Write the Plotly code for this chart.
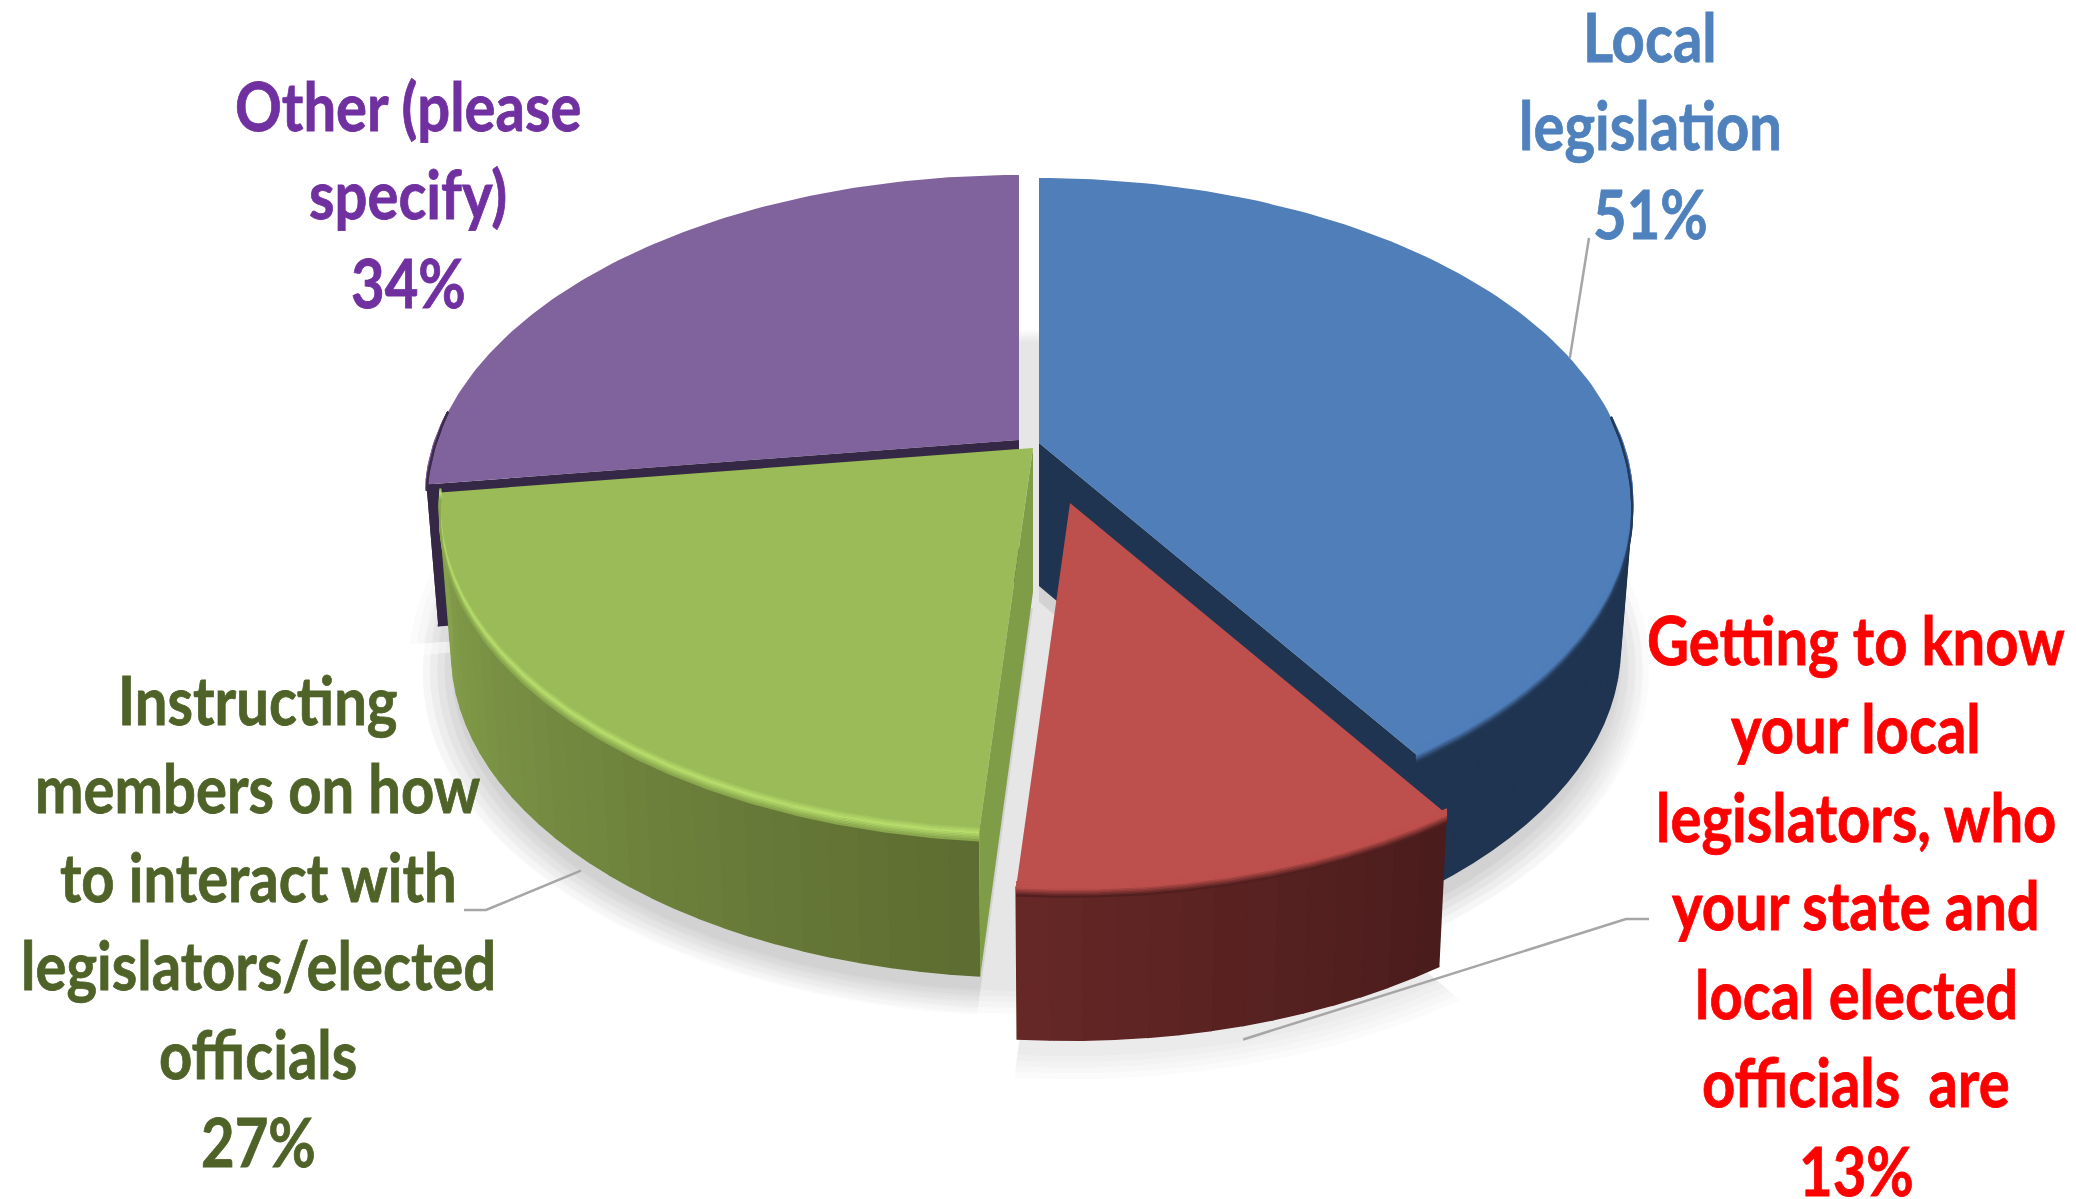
"""Exploded 3D-looking pie, drawn with filled scatter traces since go.Pie cannot tilt."""

import numpy as np
import plotly.graph_objects as go

# data
categories = ["Local legislation", "Getting to know your local legislators", "Instructing members", "Other"]
values = [51, 13, 27, 34]
label_lines = [
    ["Local", "legislation"],
    ["Getting to know", "your local", "legislators, who", "your state and", "local elected", "officials  are"],
    ["Instructing", "members on how", "to interact with", "legislators/elected", "officials"],
    ["Other (please", "specify)"],
]

# styles
top_colors = ["#4F7EB9", "#BD4F4C", "#9BBB59", "#80629C"]
face_colors = ["#1F3450", None, "#7F9C46", "#352846"]
side_back = ["#1F3450", "#4A1C1C", "#5D6C31", "#352846"]  # low theta end
side_front = ["#1F3450", "#662826", "#87A34D", "#352846"]  # high theta end
rim_colors = ["#4F7EB9", "#BD4F4C", "#B8DE6C", "#80629C"]
text_colors = ["#4F81BD", "#FF0000", "#4F6228", "#7030A0"]
FONT = "Lato, sans-serif"
FONT_SIZE = 58
LINE_GAP = 88.5
LEADER = "#A6A6A6"

# layout in page pixels
WIDTH, HEIGHT = 2076, 1199
apex_x = [1039, 1070, 1033, 1019]
apex_y = [443, 503, 448, 440]
depths = [143, 152, 144, 142]
label_x = [1650, 1856, 258, 408]
label_y = [36, 639, 699, 105]
leader_to = [
    [(1589, 238)],
    [(1626, 919), (1649, 919)],
    [(486, 910), (464, 910)],
    [],
]
RX, RY, PERSP = 583, 314, 0.185
BOTTOM_SCALE = 0.98
TEXT_STRETCH = 1.15

# the reference text is tall and narrow, and the page should start at 0,0
POST_SCRIPT = """
document.body.style.margin = '0';
document.querySelectorAll('.annotation-text').forEach(function (t) {
  var b = t.getBBox(), cy = b.y + b.height / 2;
  t.setAttribute('transform',
    'translate(0,' + cy + ') scale(1,%s) translate(0,' + (-cy) + ')');
  t.style.stroke = t.style.fill;
  t.style.strokeWidth = '0.7px';
});
""" % TEXT_STRETCH


def project(theta, ix, depth=0.0, r=1.0):
    # theta in radians, clockwise from the far side of the disc
    gx = r * np.sin(theta)
    gy = r * np.cos(theta)
    w = 1 + PERSP * gy
    s = BOTTOM_SCALE if depth else 1.0
    return apex_x[ix] + s * RX * gx / w, apex_y[ix] - RY * gy / w + depth


def blend(c1, c2, t):
    a = [int(c1[i:i + 2], 16) for i in (1, 3, 5)]
    b = [int(c2[i:i + 2], 16) for i in (1, 3, 5)]
    return "rgb(%d,%d,%d)" % tuple(round(p + (q - p) * t) for p, q in zip(a, b))


def poly(fig, x, y, color, opacity=1.0, outline=0):
    fig.add_trace(
        go.Scatter(
            x=x, y=y, mode="lines", fill="toself", fillcolor=color, opacity=opacity,
            line=dict(color=color, width=outline),
            hoverinfo="skip", showlegend=False,
        )
    )


edges = np.concatenate([[0], np.cumsum(values)]) / sum(values) * 2 * np.pi
fig = go.Figure()

# 1. soft shadow: whole disc plus each slice, a bit below the bottom face
for grow in (1.0, 1.012, 1.024, 1.036, 1.048):
    t = np.linspace(0, 2 * np.pi, 180)
    sx, sy = project(t, 2, 158, grow)
    poly(fig, sx, sy, "#000000", 0.02)
    for i in range(len(values)):
        t = np.linspace(edges[i], edges[i + 1], 60)
        sx, sy = project(t, i, depths[i] + 16, grow)
        poly(fig, np.r_[apex_x[i], sx], np.r_[apex_y[i] + depths[i] + 16, sy], "#000000", 0.014)

# 2. slices back to front
for i in (3, 0, 2, 1):
    a0, a1 = edges[i], edges[i + 1]
    depth = depths[i]

    # outer wall as thin strips, so the shading can run along the arc
    steps = max(6, int((a1 - a0) / np.radians(2.5)))
    cuts = np.linspace(a0, a1, steps + 1)
    for k in range(steps):
        if np.cos((cuts[k] + cuts[k + 1]) / 2) > -0.05:
            continue  # far side, hidden behind the top surface
        t = np.linspace(cuts[k], cuts[k + 1], 3)
        tx, ty = project(t, i)
        bx, by = project(t, i, depth)
        poly(fig, np.r_[tx, bx[::-1]], np.r_[ty, by[::-1]],
             blend(side_back[i], side_front[i], (k + 0.5) / steps), outline=1.5)

    # cut face that looks at the viewer
    if face_colors[i]:
        edge = a1 if i == 0 else a0
        ex, ey = project(edge, i)
        fx, fy = project(edge, i, depth)
        poly(fig, [apex_x[i], ex, fx, apex_x[i]], [apex_y[i], ey, fy, apex_y[i] + depth], face_colors[i])

    # top surface
    t = np.linspace(a0, a1, 120)
    tx, ty = project(t, i)
    poly(fig, np.r_[apex_x[i], tx], np.r_[apex_y[i], ty], top_colors[i])

    # bevel along the front rim
    fade = np.clip((0.1 - np.cos(t)) / 0.3, 0, 1)
    for off in np.arange(-5, 9, 1.5):
        if off < 1:
            col = blend(top_colors[i], rim_colors[i], (off + 5) / 6)
        else:
            col = blend(rim_colors[i], side_front[i] if i == 2 else side_back[i], (off - 1) / 8)
        keep = fade > 0
        fig.add_trace(
            go.Scatter(
                x=tx[keep], y=(ty + off * fade)[keep], mode="lines",
                line=dict(color=col, width=2), hoverinfo="skip", showlegend=False,
            )
        )

# 3. leader lines run from the middle of each slice's arc out to its label
for i, bends in enumerate(leader_to):
    if not bends:
        continue
    mid = (edges[i] + edges[i + 1]) / 2
    drop = depths[i] + 14 if np.cos(mid) < 0 else 0
    lx, ly = project(mid, i, drop)
    fig.add_trace(
        go.Scatter(
            x=[lx] + [p[0] for p in bends], y=[ly] + [p[1] for p in bends], mode="lines",
            line=dict(color=LEADER, width=2.5), hoverinfo="skip", showlegend=False,
        )
    )

# 4. labels, one annotation per line to hold the line spacing
for i, lines in enumerate(label_lines):
    for n, text in enumerate(lines + [f"{values[i]}%"]):
        fig.add_annotation(
            x=label_x[i], y=label_y[i] + n * LINE_GAP, text=f"<b>{text}</b>", showarrow=False,
            xanchor="center", yanchor="middle",
            font=dict(family=FONT, size=FONT_SIZE, color=text_colors[i]),
        )

fig.update_layout(
    width=WIDTH, height=HEIGHT, margin=dict(l=0, r=0, t=0, b=0),
    paper_bgcolor="white", plot_bgcolor="white", showlegend=False,
    xaxis=dict(range=[0, WIDTH], visible=False),
    yaxis=dict(range=[HEIGHT, 0], visible=False),
)
fig.write_html("out.html", post_script=POST_SCRIPT, config={"displayModeBar": False})
